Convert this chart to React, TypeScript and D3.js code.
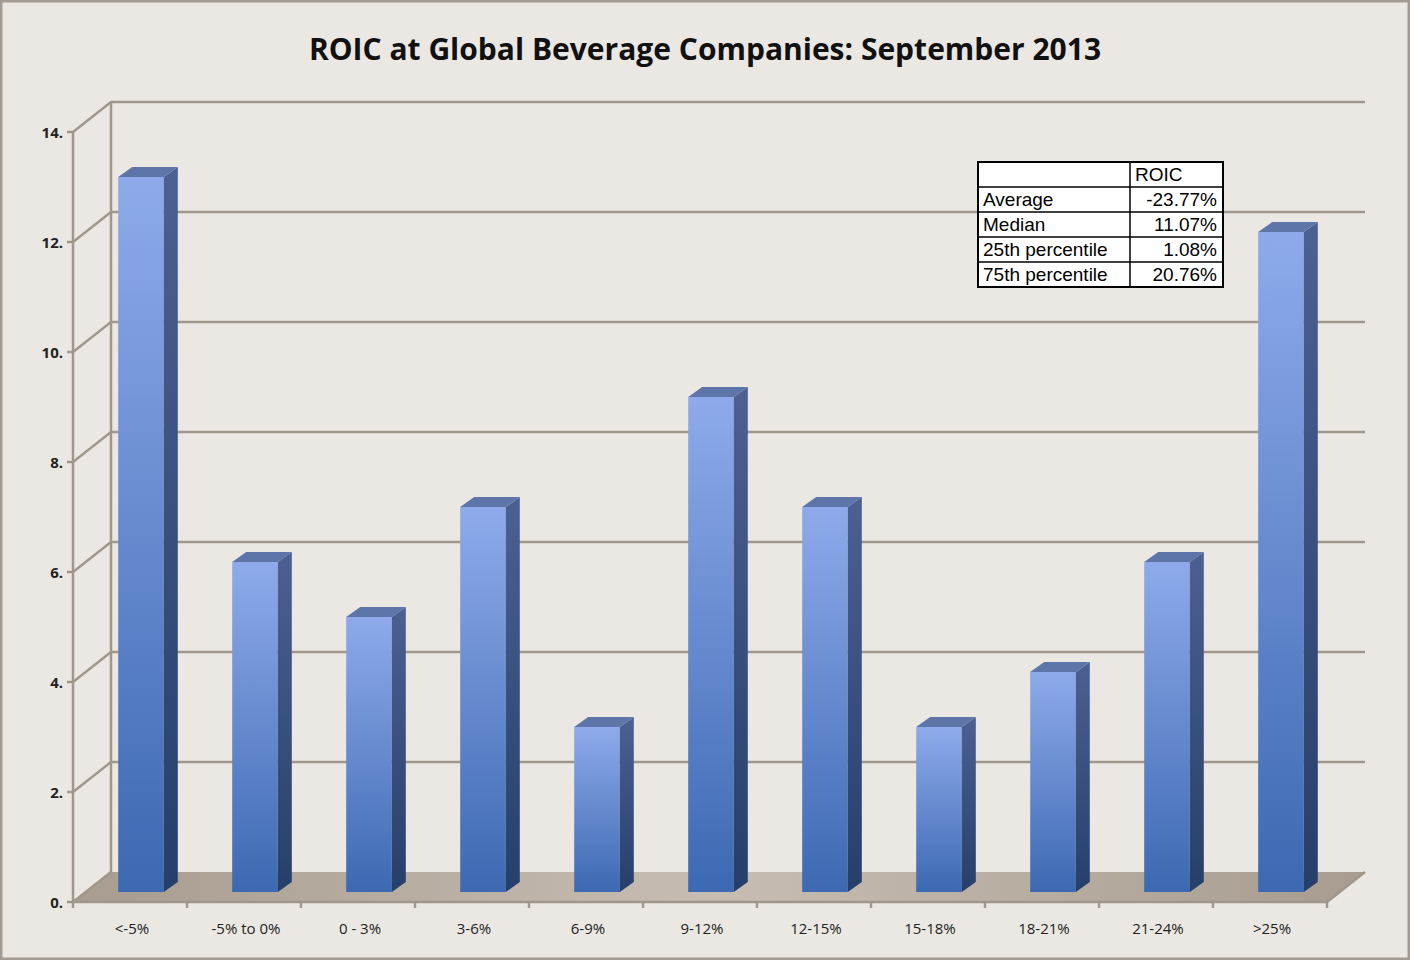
import * as d3 from 'd3';

const categories = ['<-5%', '-5% to 0%', '0 - 3%', '3-6%', '6-9%', '9-12%', '12-15%', '15-18%', '18-21%', '21-24%', '>25%'];
const counts = [13, 6, 5, 7, 3, 9, 7, 3, 4, 6, 12];
const yTicks = [0, 2, 4, 6, 8, 10, 12, 14];
const tableRows = [
  ['Average', '-23.77%'],
  ['Median', '11.07%'],
  ['25th percentile', '1.08%'],
  ['75th percentile', '20.76%'],
];

const W = 1410, H = 960;
const left = 73, right = 1327, base = 902;
const DX = 38, DY = -30; // wall depth
const bdx = 14, bdy = -10; // bar depth
const font = 'Open Sans, sans-serif';

export default function App() {
  const x = d3.scaleBand().domain(categories).range([left, right]).paddingInner(0.6).paddingOuter(0.3);
  const bandX = d3.scaleBand().domain(categories).range([left, right]);
  const y = d3.scaleLinear().domain([0, 14]).range([base, 132]);
  const off = { x: 11, y: -10 }; // bar front offset from front plane

  return (
    <svg width={W} height={H} style={{ display: 'block', position: 'absolute', left: 0, top: 0 }}>
      <defs>
        <linearGradient id="front" x1="0" y1="0" x2="0" y2="1">
          <stop offset="0" stopColor="#8eaaea" />
          <stop offset="1" stopColor="#3c69b2" />
        </linearGradient>
        <linearGradient id="side" x1="0" y1="0" x2="0" y2="1">
          <stop offset="0" stopColor="#4c6092" />
          <stop offset="1" stopColor="#263f6a" />
        </linearGradient>
        <linearGradient id="floor" x1="0" y1="0" x2="1" y2="0">
          <stop offset="0" stopColor="#a89c90" />
          <stop offset="0.5" stopColor="#c7bdb2" />
          <stop offset="1" stopColor="#a89c90" />
        </linearGradient>
      </defs>
      <rect x={1} y={1} width={W - 2} height={H - 2} fill="#ebe8e3" stroke="#a39b92" strokeWidth={3} />
      <text x={W / 2 + 0} y={60} textAnchor="middle" fontFamily={font} fontWeight="bold" fontSize={30} fill="#111">
        ROIC at Global Beverage Companies: September 2013
      </text>
      {/* floor */}
      <polygon
        points={`${left},${base} ${right},${base} ${right + DX},${base + DY} ${left + DX},${base + DY}`}
        fill="url(#floor)"
      />
      {/* grid */}
      {yTicks.map(t => (
        <g key={t} stroke="#a0978c" strokeWidth={2.5} fill="none">
          {t > 0 && <polyline points={`${left},${y(t)} ${left + DX},${y(t) + DY} ${right + DX},${y(t) + DY}`} />}
          {t === 0 && <polyline points={`${left},${y(t)} ${left + DX},${y(t) + DY}`} />}
          <line x1={left - 6} x2={left} y1={y(t)} y2={y(t)} />
        </g>
      ))}
      <line x1={left + DX} x2={left + DX} y1={y(0) + DY} y2={y(14) + DY} stroke="#a0978c" strokeWidth={2.5} />
      <line x1={left} x2={left} y1={y(0)} y2={y(14)} stroke="#a0978c" strokeWidth={2.5} />
      <line x1={left} x2={right} y1={base} y2={base} stroke="#a0978c" strokeWidth={2.5} />
      <line x1={right} x2={right + DX} y1={base} y2={base + DY} stroke="#a0978c" strokeWidth={2.5} />
      {categories.map((c, i) => (
        <line key={c} x1={bandX(c)! } x2={bandX(c)!} y1={base} y2={base + 6} stroke="#a0978c" strokeWidth={2.5} />
      ))}
      <line x1={right} x2={right} y1={base} y2={base + 6} stroke="#a0978c" strokeWidth={2.5} />
      {yTicks.map(t => (
        <text key={t} x={left - 10} y={y(t) + 6} textAnchor="end" fontFamily={font} fontWeight="bold" fontSize={15} fill="#222">
          {t}.
        </text>
      ))}
      {/* bars */}
      {categories.map((c, i) => {
        const x0 = x(c)! + off.x, w = x.bandwidth();
        const yb = y(0) + off.y, yt = y(counts[i]) + off.y;
        return (
          <g key={c}>
            <rect x={x0} y={yt} width={w} height={yb - yt} fill="url(#front)" />
            <polygon points={`${x0 + w},${yt} ${x0 + w + bdx},${yt + bdy} ${x0 + w + bdx},${yb + bdy} ${x0 + w},${yb}`} fill="url(#side)" />
            <polygon points={`${x0},${yt} ${x0 + bdx},${yt + bdy} ${x0 + w + bdx},${yt + bdy} ${x0 + w},${yt}`} fill="#5d75a8" />
          </g>
        );
      })}
      {categories.map(c => (
        <text key={c} x={bandX(c)! + bandX.bandwidth() / 2 + 2} y={934} textAnchor="middle" fontFamily={font} fontSize={15} fill="#222">
          {c}
        </text>
      ))}
      {/* table */}
      <g fontFamily="Liberation Sans, Arial, sans-serif" fontSize={19} fill="#000">
        <rect x={978} y={162} width={245} height={125} fill="#fff" stroke="#000" strokeWidth={2} />
        {[187, 212, 237, 262].map(v => (
          <line key={v} x1={978} x2={1223} y1={v} y2={v} stroke="#000" strokeWidth={1.5} />
        ))}
        <line x1={1130} x2={1130} y1={162} y2={287} stroke="#000" strokeWidth={1.5} />
        <text x={1135} y={181}>ROIC</text>
        {tableRows.map((r, i) => (
          <g key={r[0]}>
            <text x={983} y={206 + i * 25}>{r[0]}</text>
            <text x={1217} y={206 + i * 25} textAnchor="end">{r[1]}</text>
          </g>
        ))}
      </g>
    </svg>
  );
}
